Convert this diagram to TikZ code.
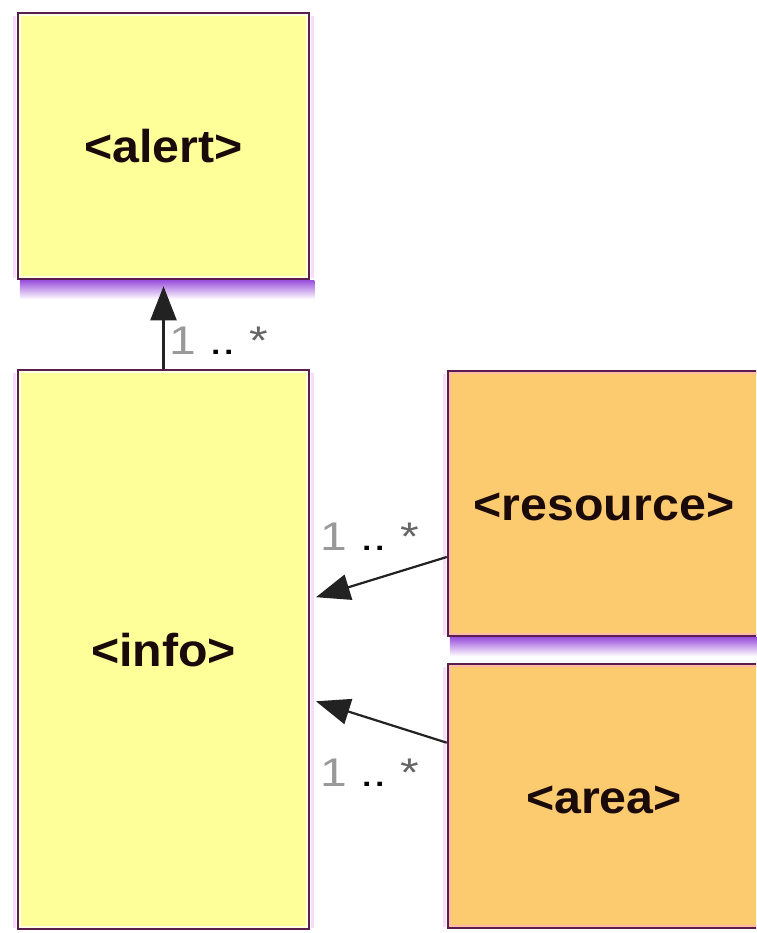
\documentclass[tikz,border=0pt]{standalone}
\usepackage{fontspec}
\usepackage{graphicx}
\setmainfont{Liberation Sans}
\usetikzlibrary{arrows.meta,calc,backgrounds}
\definecolor{bordc}{HTML}{5A1E4E}
\definecolor{yelc}{HTML}{FFFF99}
\definecolor{orac}{HTML}{FCCB6F}
\definecolor{shadc}{HTML}{9A50DC}
\definecolor{haloc}{HTML}{F6DDFB}
\definecolor{innY}{HTML}{FFFFE2}
\definecolor{innO}{HTML}{FDBBA5}
\definecolor{txtc}{HTML}{1A0A0A}
\definecolor{linec}{HTML}{222222}
\tikzset{
  umlbox/.style={draw=bordc, line width=3.5pt, rectangle, inner sep=0pt,
    text=txtc, text height=34pt, text depth=0pt,
    font=\fontsize{46}{50}\selectfont\bfseries},
  yelbox/.style={umlbox, fill=yelc},
  orabox/.style={umlbox, fill=orac},
  conn/.style={draw=linec, line width=2.2pt, -{Triangle[length=34pt,width=26pt]}, shorten >=6pt},
  mult/.style={inner sep=0pt, anchor=base west, font=\fontsize{40}{44}\selectfont},
  halo/.style={draw=haloc, line width=3pt},
  inner/.style={line width=2pt},
}
\newcommand{\wide}[1]{\scalebox{1.05}[1]{#1}}
\newcommand{\multtext}{\scalebox{1.2}[1]{\textcolor{black!40}{1}\ \textcolor{black}{..}\ \textcolor{black!60}{*}}}
\begin{document}
\begin{tikzpicture}[x=1pt,y=-1pt]
\useasboundingbox (0,0) rectangle (756,933);
\clip (0,0) rectangle (756,933);

\node[yelbox, minimum width=290pt, minimum height=265pt] (alert) at (163.5,146) {\wide{<alert>}};
\node[yelbox, minimum width=290pt, minimum height=558pt] (info) at (163.5,649.5) {\wide{<info>}};
\node[orabox, minimum width=351.5pt, minimum height=264pt] (resource) at (624.25,503.5) {\hspace*{-40.5pt}\wide{<resource>}};
\node[orabox, minimum width=351.5pt, minimum height=263pt] (area) at (624.25,796) {\hspace*{-40.5pt}\wide{<area>}};

\begin{scope}[on background layer]
  \fill[white] (0,0) rectangle (756,933);
  \foreach \n in {alert,info,resource,area} {
    \draw[halo] ([shift={(-2.5pt,-4pt)}]\n.north west) -- ([shift={(-2.5pt,2pt)}]\n.south west);
    \draw[halo] ([shift={(2.5pt,-4pt)}]\n.north east) -- ([shift={(2.5pt,2pt)}]\n.south east);
  }
  \foreach \n in {alert,resource} {
    \shade[top color=shadc, bottom color=white]
      ([shift={(3pt,0pt)}]\n.south west) rectangle ([shift={(4pt,-19pt)}]\n.south east);
  }
\end{scope}

\draw[inner, innY] ([shift={(3pt,-3pt)}]alert.north west) rectangle ([shift={(-3pt,3pt)}]alert.south east);
\draw[inner, innY] ([shift={(3pt,-3pt)}]info.north west) rectangle ([shift={(-3pt,3pt)}]info.south east);
\draw[inner, innO] ([shift={(3pt,-3pt)}]resource.north west) rectangle ([shift={(-3pt,3pt)}]resource.south east);
\draw[inner, innO] ([shift={(3pt,-3pt)}]area.north west) rectangle ([shift={(-3pt,3pt)}]area.south east);

\draw[conn] (info.north) -- (alert.south);
\draw[conn] ($(resource.north west)!0.70!(resource.south west)$) -- ($(info.north east)!0.41!(info.south east)$);
\draw[conn] ($(area.north west)!0.30!(area.south west)$) -- ($(info.north east)!0.589!(info.south east)$);

\node[mult] (m1) at (169,354) {\multtext};
\node[mult] (m2) at (320,550) {\multtext};
\node[mult] (m3) at (320,786) {\multtext};
\end{tikzpicture}
\end{document}
